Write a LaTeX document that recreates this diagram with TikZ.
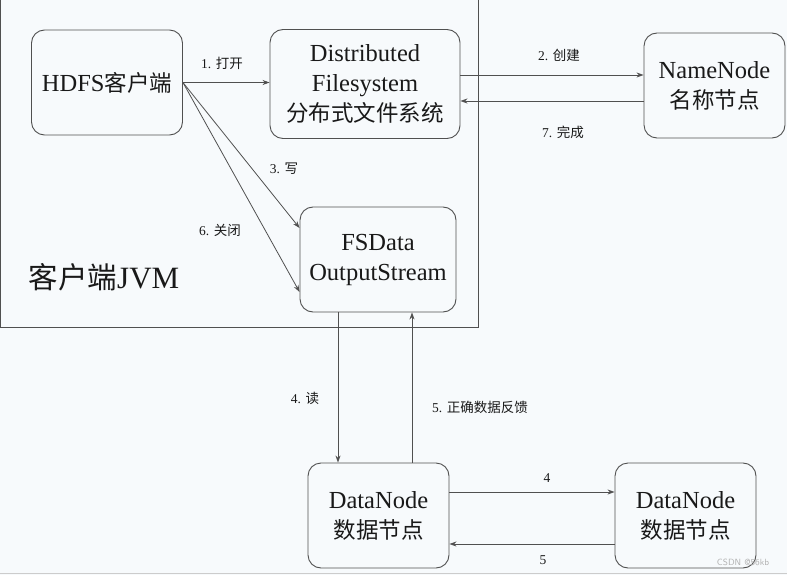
\documentclass[tikz,border=0pt]{standalone}
\usepackage{fontspec}
\setmainfont{Liberation Serif}
\newfontfamily\cjk{Noto Sans CJK SC}
\usetikzlibrary{arrows.meta,calc}
\definecolor{bgc}{RGB}{247,250,252}
\definecolor{linec}{RGB}{80,80,80}
\definecolor{txtc}{RGB}{25,25,25}
\tikzset{
  box/.style={draw=linec, line width=0.9pt, rounded corners=13pt, align=center,
    text=txtc, font=\fontsize{24.5}{30}\selectfont, inner sep=0pt},
  arr/.style={draw=linec, line width=0.8pt, -{Stealth[length=7pt,width=5pt]}},
  lbl/.style={text=txtc, font=\fontsize{13.5}{15}\selectfont, inner sep=0pt},
}
\newcommand{\zh}[1]{{\cjk\fontsize{22.5}{30}\selectfont #1}}
\newcommand{\zs}[1]{{\cjk\fontsize{13.5}{15}\selectfont #1}}
\begin{document}
\begin{tikzpicture}[x=1pt,y=-1pt]
\fill[bgc] (0,0) rectangle (787,575);
\useasboundingbox (0,0) rectangle (787,575);
% JVM box
\draw[linec, line width=0.9pt] (0.5,-5) rectangle (478,327);
\node[text=txtc, font=\fontsize{31}{34}\selectfont, inner sep=0pt] (jvm) at (104,277) {{\cjk\fontsize{29.5}{34}\selectfont 客户端}JVM};
% nodes
\node[box, minimum width=151pt, minimum height=105pt] (hdfs) at (107,82.5) {HDFS\zh{客户端}};
\node[box, minimum width=190pt, minimum height=109pt] (dfs) at (365,84) {Distributed\\Filesystem\\\zh{分布式文件系统}};
\node[box, minimum width=156pt, minimum height=105pt] (fsd) at (378,259.5) {FSData\\OutputStream};
\node[box, minimum width=141pt, minimum height=105pt] (nn) at (714.5,85.5) {NameNode\\\zh{名称节点}};
\node[box, minimum width=141pt, minimum height=105pt] (dn1) at (378.5,515.5) {DataNode\\\zh{数据节点}};
\node[box, minimum width=141pt, minimum height=105pt] (dn2) at (685.5,515.5) {DataNode\\\zh{数据节点}};
% connectors
\draw[arr] (hdfs.east) -- (hdfs.east -| dfs.west);
\draw[arr] (hdfs.east) -- (fsd.west |- 0,228);
\draw[arr] (hdfs.east) -- (fsd.west |- 0,292);
\draw[arr] (dfs.east |- 0,75) -- (nn.west |- 0,75);
\draw[arr] (nn.west |- 0,101) -- (dfs.east |- 0,101);
\draw[arr] (fsd.south -| 338,0) -- (dn1.north -| 338,0);
\draw[arr] (dn1.north -| 412,0) -- (fsd.south -| 412,0);
\draw[arr] (dn1.east |- 0,492) -- (dn2.west |- 0,492);
\draw[arr] (dn2.west |- 0,544) -- (dn1.east |- 0,544);
% labels
\node[lbl] (l1) at (222,63) {1. \zs{打开}};
\node[lbl] (l3) at (284,169) {3. \zs{写}};
\node[lbl] (l6) at (220,230) {6. \zs{关闭}};
\node[lbl] (l2) at (559,55) {2. \zs{创建}};
\node[lbl] (l7) at (563,132) {7. \zs{完成}};
\node[lbl] (l4) at (305,398) {4. \zs{读}};
\node[lbl] (l5) at (480,407) {5. \zs{正确数据反馈}};
\node[lbl] (l4b) at (547,478) {4};
\node[lbl] (l5b) at (543,560) {5};
% watermark and bottom rule
\node[text=gray!60, font=\sffamily\fontsize{9}{10}\selectfont, inner sep=0pt] (wm) at (743,562) {CSDN @56kb};
\draw[gray!40, line width=1.5pt] (0,573.5) -- (787,573.5);
\end{tikzpicture}
\end{document}
